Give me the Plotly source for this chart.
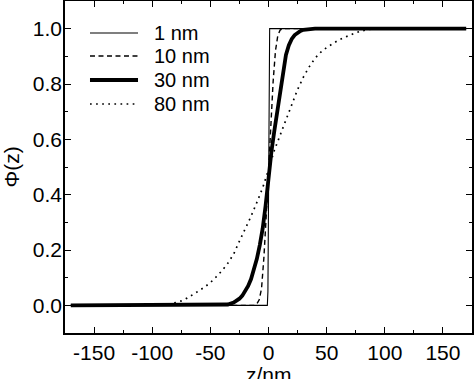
import plotly.graph_objects as go

# ---- data ----
z_1nm = [-170, -1.0, -0.5, 0.0, 0.5, 1.0, 170]
phi_1nm = [0.0, 0.0, 0.05, 0.5, 0.95, 1.0, 1.0]

z_10nm = [-170, -12, -10, -8, -6, -4, -2, 0, 2, 4, 6, 8, 10, 12, 170]
phi_10nm = [0.0, 0.0, 0.005, 0.02, 0.06, 0.17, 0.32, 0.49, 0.66, 0.81, 0.92, 0.975, 0.995, 1.0, 1.0]

z_30nm = [-170, -40, -35, -30, -27.5, -25, -22.5, -20, -17.5, -15, -12.5, -10, -7.5, -5, -2.5,
          0, 2.5, 5, 7.5, 10, 12.5, 15, 17.5, 20, 22.5, 25, 27.5, 30, 35, 40, 170]
phi_30nm = [0.0, 0.0, 0.003, 0.010, 0.016, 0.024, 0.035, 0.050, 0.070, 0.095, 0.128, 0.168, 0.218, 0.278, 0.36,
            0.47, 0.555, 0.63, 0.70, 0.775, 0.85, 0.905, 0.94, 0.963, 0.977, 0.986, 0.992, 0.996, 0.999, 1.0, 1.0]

z_80nm = [-170, -90, -85, -80, -75, -70, -65, -60, -55, -50, -45, -40, -35, -30, -25, -20, -15, -10, -5,
          0, 5, 10, 15, 20, 25, 30, 35, 40, 45, 50, 55, 60, 65, 70, 75, 80, 85, 90, 170]
phi_80nm = [0.0, 0.001, 0.004, 0.009, 0.016, 0.026, 0.038, 0.052, 0.066, 0.082, 0.103, 0.125, 0.152, 0.185, 0.232,
            0.275, 0.322, 0.372, 0.425,
            0.49, 0.56, 0.615, 0.672, 0.727, 0.78, 0.825, 0.862, 0.893, 0.915, 0.932, 0.946, 0.958, 0.968,
            0.977, 0.985, 0.992, 0.997, 1.0, 1.0]

legend_labels = ["1 nm", "10 nm", "30 nm", "80 nm"]
x_ticks = [-150, -100, -50, 0, 50, 100, 150]
y_ticks = [0.0, 0.2, 0.4, 0.6, 0.8, 1.0]
x_title = "z/nm"
y_title = "Φ(z)"

FONT = "Liberation Sans, Arial, sans-serif"

styles = [
    dict(width=1.1, dash="solid"),
    dict(width=1.4, dash="5px,3.5px"),
    dict(width=3.8, dash="solid"),
    dict(width=1.7, dash="1.7px,4.4px"),
]

series = [(z_1nm, phi_1nm), (z_10nm, phi_10nm), (z_30nm, phi_30nm), (z_80nm, phi_80nm)]

fig = go.Figure()
for (zs, ps), name, st in zip(series, legend_labels, styles):
    fig.add_trace(go.Scatter(x=zs, y=ps, mode="lines", name=name,
                             line=dict(color="black", width=st["width"], dash=st["dash"]),
                             showlegend=False))

# manual legend (sample line + text)
leg_y = [0.9036, 0.8343, 0.7620, 0.6898]
for name, st, yy in zip(legend_labels, styles, leg_y):
    fig.add_shape(type="line", xref="paper", yref="paper", x0=0.0614, x1=0.1794, y0=yy, y1=yy,
                  line=dict(color="black", width=st["width"], dash=st["dash"]))
    fig.add_annotation(xref="paper", yref="paper", x=0.2138, y=yy, text=name, showarrow=False,
                       xanchor="left", yanchor="middle", font=dict(family=FONT, size=20, color="black"))

# x-axis title placed as an annotation (sits partly below the page edge, as in the reference)
fig.add_annotation(xref="paper", yref="paper", x=0.5, y=-0.1265, text=x_title, showarrow=False,
                   xanchor="center", yanchor="middle", font=dict(family=FONT, size=21, color="black"))

axis_common = dict(showline=True, linecolor="black", linewidth=1.6, mirror="ticks",
                   ticks="inside", ticklen=6, tickwidth=1.3, tickcolor="black",
                   showgrid=False, zeroline=False, automargin=False,
                   tickfont=dict(family=FONT, size=21, color="black"))

fig.update_xaxes(range=[-175, 175], tickvals=x_ticks, ticktext=[str(v) for v in x_ticks],
                 ticklabelstandoff=0,
                 minor=dict(dtick=25, tick0=0, ticks="inside", ticklen=3.5, tickwidth=1.1, tickcolor="black"),
                 **axis_common)
fig.update_yaxes(range=[-0.1, 1.1], tickvals=y_ticks, ticktext=[f"{v:.1f}" for v in y_ticks],
                 ticklabelstandoff=-3,
                 minor=dict(dtick=0.1, tick0=0, ticks="inside", ticklen=3.5, tickwidth=1.1, tickcolor="black"),
                 title=dict(text=y_title, font=dict(family=FONT, size=21, color="black"), standoff=7),
                 **axis_common)

fig.update_layout(width=474, height=379, margin=dict(l=65, r=2, t=1, b=46),
                  plot_bgcolor="white", paper_bgcolor="white", showlegend=False)

fig.write_html("out.html", config={"displayModeBar": False},
               post_script="document.body.style.margin='0';document.body.style.padding='0';")
